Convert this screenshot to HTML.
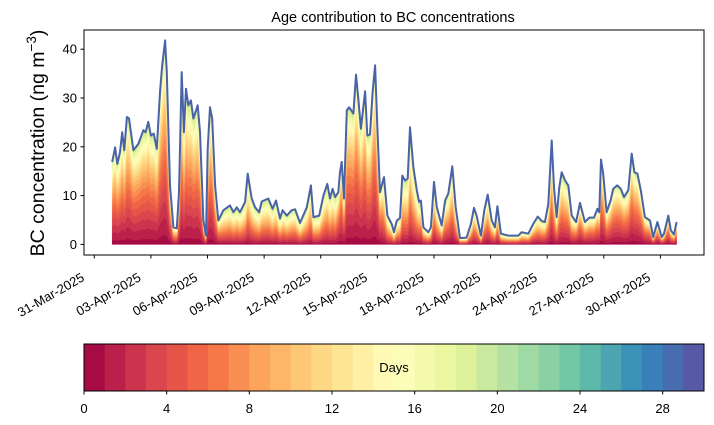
<!DOCTYPE html>
<html><head><meta charset="utf-8"><style>
html,body{margin:0;padding:0;background:#fff}
svg{display:block;font-family:"Liberation Sans","DejaVu Sans",sans-serif}
</style></head><body>
<svg id="chart" width="714" height="425" viewBox="0 0 714 425" xmlns="http://www.w3.org/2000/svg">
<text x="393" y="22" font-size="14.5" text-anchor="middle">Age contribution to BC concentrations</text>
<text transform="translate(44,143) rotate(-90)" font-size="19.5" text-anchor="middle">BC concentration (ng m<tspan dy="-8" font-size="13.5">−3</tspan><tspan dy="8">)</tspan></text>
<g id="layers"></g>
<g id="line"></g>
<rect x="84" y="30" width="620" height="225" fill="none" stroke="#000" stroke-width="1"/>
<g id="yaxis"></g>
<g id="xaxis"></g>
<g id="cbar"></g>
</svg>
<script>
const days=[0.95,1.10,1.22,1.36,1.48,1.59,1.73,1.84,2.07,2.33,2.60,2.72,2.86,3.00,3.15,3.31,3.48,3.60,3.75,3.84,4.01,4.19,4.37,4.49,4.63,4.75,4.86,4.98,5.12,5.25,5.48,5.60,5.78,5.92,6.01,6.13,6.25,6.40,6.57,6.84,7.19,7.37,7.55,7.72,7.99,8.13,8.34,8.52,8.74,8.87,9.22,9.45,9.63,9.84,9.98,10.20,10.46,10.64,10.90,11.26,11.48,11.61,11.92,12.14,12.35,12.49,12.63,12.76,12.93,13.02,13.11,13.23,13.38,13.51,13.73,13.87,13.99,14.13,14.35,14.47,14.61,14.75,14.88,15.00,15.14,15.23,15.35,15.53,15.76,15.88,16.03,16.20,16.32,16.47,16.61,16.73,16.91,17.09,17.21,17.31,17.44,17.70,17.84,18.00,18.15,18.41,18.59,18.76,18.97,19.15,19.38,19.73,19.96,20.12,20.26,20.49,20.67,20.85,21.06,21.23,21.36,21.55,21.94,22.47,22.65,23.00,23.26,23.50,23.71,23.88,24.06,24.24,24.36,24.50,24.64,24.77,24.95,25.12,25.30,25.53,25.74,26.00,26.23,26.48,26.66,26.76,26.85,26.97,27.15,27.36,27.50,27.71,27.90,28.07,28.30,28.48,28.62,28.78,28.96,29.18,29.45,29.62,29.84,30.07,30.19,30.42,30.55,30.72,30.86];
const totalBC=[16.9,19.9,16.5,18.9,23,19.3,26.1,25.8,19.3,20.6,23.4,23,25.1,22.3,22.7,19.6,31.2,36.7,41.8,35.3,12.1,3.5,3.3,10.7,35.3,23,31.9,28.5,29.5,25.8,28.5,23,4.9,1.8,19.6,28.1,25.8,12.1,4.9,7,8,6.6,7.6,6.6,8.7,14.5,9.4,7.6,6.6,8.8,9.4,7.3,9,5.3,7,5.9,7,7.2,4.4,7.6,12.1,5.6,5.9,10,12.4,9.4,11.4,9.7,10.7,14.8,16.9,9.4,27.5,28.1,26.8,34.8,29.9,23.7,31.4,22.3,22.5,31.2,36.7,23.7,10.7,12.1,13.8,5.9,4.2,2.5,4.9,5.4,14.1,13.1,13.5,24,15.8,11.1,8.7,9,3.5,2.5,3.5,12.8,7.6,3.9,9,10.4,16,7.6,1.3,1.4,4.2,7.5,5.9,1.8,7,10.2,4.9,3.5,7.8,2.2,1.8,1.8,2.5,2.2,4.2,5.7,4.8,4.6,8.3,21.3,11.7,5.6,11.7,14.8,13.1,12.1,5.9,4.6,8.5,4.6,5.5,5.5,7.3,6.6,17.4,14.5,6.6,9,11.4,12.1,11.4,9.7,11.1,18.6,14.8,14.5,11.1,5.6,4.9,1.5,4.6,1.5,2.2,5.9,2.9,2,4.6];
// age-distribution decay (days) by period: larger = older/yellower air
const tauStartDay=[0,4.0,6.6,12.9,15.3,17.3,22.5,25.5,31];
const tauValue=[14,16,60,13,60,30,25,14,14];
const yTicks=[0,10,20,30,40];
const xTickLabels=["31-Mar-2025","03-Apr-2025","06-Apr-2025","09-Apr-2025","12-Apr-2025","15-Apr-2025","18-Apr-2025","21-Apr-2025","24-Apr-2025","27-Apr-2025","30-Apr-2025"];
const xTickDays=[0,3,6,9,12,15,18,21,24,27,30];
const cbTicks=[0,4,8,12,16,20,24,28];
const nAges=30;

const NS="http://www.w3.org/2000/svg";
const X=d=>94.3+d*18.87;
const Y=v=>244.4-v*4.88;
const spectral=["#9e0142","#d53e4f","#f46d43","#fdae61","#fee08b","#ffffbf","#e6f598","#abdda4","#66c2a5","#3288bd","#5e4fa2"];
function hex(h){return [1,3,5].map(i=>parseInt(h.substr(i,2),16));}
function cmap(t){t=Math.max(0,Math.min(1,t));const f=t*10,i=Math.min(9,Math.floor(f)),r=f-i;const a=hex(spectral[i]),b=hex(spectral[i+1]);return "rgb("+a.map((v,k)=>Math.round(v+(b[k]-v)*r)).join(",")+")";}
function el(tag,attrs,parent){const e=document.createElementNS(NS,tag);for(const k in attrs)e.setAttribute(k,attrs[k]);parent.appendChild(e);return e;}
function tauAt(d){for(let i=tauStartDay.length-2;i>=0;i--){if(d>=tauStartDay[i])return tauValue[i];}return tauValue[0];}

// layers
const layersG=document.getElementById('layers');
const maxAge=19;
const cum=days.map((d,i)=>{const tau=tauAt(d);const w=[];let s=0;for(let k=0;k<=maxAge;k++){const v=Math.exp(-k/tau)*(k===0?0.5:1);w.push(v);s+=v;}let c=0;const out=[0];for(let k=0;k<=maxAge;k++){c+=w[k]/s;out.push(c);}return out;});
for(let k=0;k<=maxAge;k++){
  let pts=[];
  for(let i=0;i<days.length;i++)pts.push(X(days[i]).toFixed(1)+","+Y(totalBC[i]*cum[i][k+1]).toFixed(1));
  for(let i=days.length-1;i>=0;i--)pts.push(X(days[i]).toFixed(1)+","+Y(totalBC[i]*cum[i][k]).toFixed(1));
  const p=el('polygon',{points:pts.join(" "),fill:cmap((k+0.5)/nAges),stroke:cmap((k+0.5)/nAges),'stroke-width':0.5},layersG);
  
  
}
// line
const lineG=document.getElementById('line');
const lp=el('polyline',{points:days.map((d,i)=>X(d).toFixed(1)+","+Y(totalBC[i]).toFixed(1)).join(" "),fill:"none",stroke:"#4a62a8","stroke-width":2,"stroke-linejoin":"round"},lineG);


// y axis
const yG=document.getElementById('yaxis');
yTicks.forEach(v=>{
  el('line',{x1:80.5,x2:84,y1:Y(v),y2:Y(v),stroke:"#000"},yG);
  const t=el('text',{x:77,y:Y(v)+4.5,'font-size':13,'text-anchor':'end'},yG);
  t.textContent=v;
  
  
});
// x axis
const xG=document.getElementById('xaxis');
xTickDays.forEach((d,i)=>{
  const x=X(d);
  el('line',{x1:x,x2:x,y1:255,y2:258.5,stroke:"#000"},xG);
  const t=el('text',{transform:`translate(${x-9},${280}) rotate(-30)`,'font-size':13,'text-anchor':'end'},xG);
  t.textContent=xTickLabels[i];
  
  
});
// colorbar
const cG=document.getElementById('cbar');
const cbX=a=>84+a*(620/nAges);
for(let k=0;k<nAges;k++){
  const r=el('rect',{x:cbX(k),y:344,width:620/nAges+0.5,height:47,fill:cmap((k+0.5)/nAges)},cG);
  
  
}
el('rect',{x:84,y:344,width:620,height:47,fill:"none",stroke:"#000"},cG);
cbTicks.forEach(v=>{
  el('line',{x1:cbX(v),x2:cbX(v),y1:391,y2:394.5,stroke:"#000"},cG);
  const t=el('text',{x:cbX(v),y:413,'font-size':13,'text-anchor':'middle'},cG);
  t.textContent=v;
  
  
});
const dl=el('text',{x:394,y:372,'font-size':13,'text-anchor':'middle'},cG);
dl.textContent="Days";


</script>
</body></html>
